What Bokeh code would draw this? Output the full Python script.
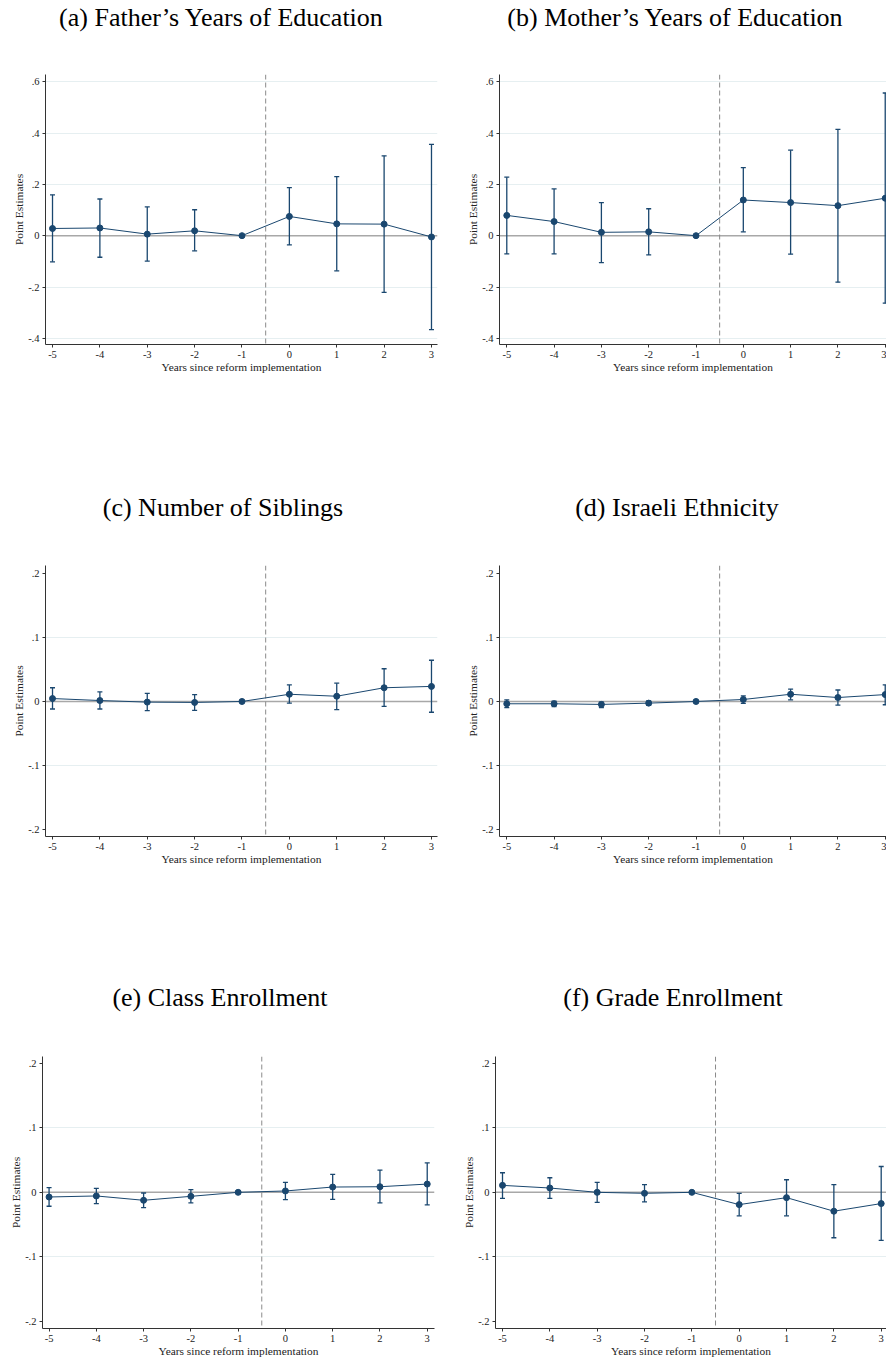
from bokeh.plotting import figure
from bokeh.models import Range1d, FixedTicker, Span, Title
from bokeh.layouts import column, row
from bokeh.embed import file_html
from bokeh.resources import INLINE

years = [-5, -4, -3, -2, -1, 0, 1, 2, 3]
x_labels = {-5: "-5", -4: "-4", -3: "-3", -2: "-2", -1: "-1", 0: "0", 1: "1", 2: "2", 3: "3"}

titles = ["(a) Father\u2019s Years of Education", "(b) Mother\u2019s Years of Education",
          "(c) Number of Siblings", "(d) Israeli Ethnicity",
          "(e) Class Enrollment", "(f) Grade Enrollment"]

# (a) Father's years of education
fa_est = [0.028, 0.030, 0.006, 0.019, 0.0, 0.075, 0.046, 0.045, -0.005]
fa_hi = [0.159, 0.143, 0.112, 0.101, 0.0, 0.187, 0.230, 0.311, 0.356]
fa_lo = [-0.102, -0.084, -0.099, -0.059, 0.0, -0.036, -0.137, -0.221, -0.366]

# (b) Mother's years of education
mo_est = [0.079, 0.055, 0.013, 0.015, 0.0, 0.139, 0.129, 0.117, 0.146]
mo_hi = [0.228, 0.182, 0.129, 0.105, 0.0, 0.265, 0.333, 0.414, 0.556]
mo_lo = [-0.071, -0.071, -0.105, -0.075, 0.0, 0.015, -0.072, -0.181, -0.263]

# (c) Number of siblings
sib_est = [0.0046, 0.0015, -0.0010, -0.0015, 0.0, 0.0113, 0.0082, 0.0215, 0.0236]
sib_hi = [0.0215, 0.0149, 0.0128, 0.0108, 0.0, 0.0260, 0.0287, 0.0513, 0.0646]
sib_lo = [-0.0118, -0.0118, -0.0144, -0.0138, 0.0, -0.0026, -0.0128, -0.0077, -0.0169]

# (d) Israeli ethnicity
eth_est = [-0.0036, -0.0036, -0.0046, -0.0026, 0.0, 0.0031, 0.0113, 0.0062, 0.0108]
eth_hi = [0.0026, 0.0005, -0.0010, 0.0010, 0.0, 0.0087, 0.0195, 0.0180, 0.0260]
eth_lo = [-0.0097, -0.0082, -0.0097, -0.0062, 0.0, -0.0031, 0.0026, -0.0056, -0.0051]

# (e) Class enrollment
cls_est = [-0.0072, -0.0056, -0.0123, -0.0062, 0.0, 0.0021, 0.0082, 0.0087, 0.0128]
cls_hi = [0.0072, 0.0062, -0.0010, 0.0041, 0.0, 0.0154, 0.0277, 0.0344, 0.0456]
cls_lo = [-0.0215, -0.0174, -0.0236, -0.0164, 0.0, -0.0113, -0.0108, -0.0164, -0.0195]

# (f) Grade enrollment
grd_est = [0.0108, 0.0067, 0.0, -0.0015, 0.0, -0.0190, -0.0082, -0.0292, -0.0174]
grd_hi = [0.0303, 0.0226, 0.0154, 0.0118, 0.0, -0.0015, 0.0195, 0.0118, 0.0400]
grd_lo = [-0.0092, -0.0092, -0.0154, -0.0149, 0.0, -0.0364, -0.0364, -0.0703, -0.0744]

big_ticks = [-0.4, -0.2, 0.0, 0.2, 0.4, 0.6]
big_labels = {-0.4: "-.4", -0.2: "-.2", 0.0: "0", 0.2: ".2", 0.4: ".4", 0.6: ".6"}
big_grid = [-0.4, -0.2, 0.2, 0.4, 0.6]
small_ticks = [-0.2, -0.1, 0.0, 0.1, 0.2]
small_labels = {-0.2: "-.2", -0.1: "-.1", 0.0: "0", 0.1: ".1", 0.2: ".2"}
small_grid = [-0.1, 0.1]

NAVY = "#1a476f"
FONT = "Liberation Serif"
AXIS = "#333333"
TITLE_PX = 26

# Times / Liberation Serif advance widths (1/1000 em), used to centre the titles
_W = {" ": 250, "(": 333, ")": 333, "\u2019": 333, "a": 444, "b": 500, "c": 444, "d": 500,
      "e": 444, "f": 333, "g": 500, "h": 500, "i": 278, "l": 278, "m": 778, "n": 500,
      "o": 500, "r": 333, "s": 389, "t": 278, "u": 500, "y": 500, "C": 667, "E": 611,
      "F": 556, "G": 722, "I": 333, "M": 889, "N": 722, "S": 556, "Y": 722}


def text_width(s, px):
    return sum(_W.get(ch, 500) for ch in s) * px / 1000.0


def panel(title, est, lo, hi, width, height, left, right, top, bottom,
          xr, yr, yticks, ylabels, ygrid, title_cx, title_gap):
    p = figure(width=width, height=height, output_backend="svg", toolbar_location=None,
               x_range=Range1d(*xr), y_range=Range1d(*yr),
               min_border_left=left, min_border_right=right,
               min_border_top=top, min_border_bottom=bottom)
    p.outline_line_color = None
    p.background_fill_color = "white"
    p.border_fill_color = "white"
    p.xgrid.visible = False
    p.ygrid.ticker = FixedTicker(ticks=ygrid)
    p.ygrid.grid_line_color = "#e6eff1"
    p.ygrid.grid_line_width = 1

    p.xaxis.ticker = FixedTicker(ticks=years)
    p.xaxis.major_label_overrides = x_labels
    p.yaxis.ticker = FixedTicker(ticks=yticks)
    p.yaxis.major_label_overrides = ylabels
    p.xaxis.axis_label = "Years since reform implementation"
    p.yaxis.axis_label = "Point Estimates"
    for ax in (p.xaxis[0], p.yaxis[0]):
        ax.axis_line_color = AXIS
        ax.axis_line_width = 1
        ax.major_tick_line_color = AXIS
        ax.major_tick_out = 3
        ax.major_tick_in = 0
        ax.minor_tick_out = 0
        ax.minor_tick_in = 0
        ax.major_label_text_font = FONT
        ax.major_label_text_font_size = "10.5px"
        ax.major_label_text_color = "#222222"
        ax.major_label_standoff = 3
        ax.axis_label_text_font = FONT
        ax.axis_label_text_font_size = "11.4px"
        ax.axis_label_text_font_style = "normal"
        ax.axis_label_text_color = "#222222"
        ax.axis_label_standoff = 0

    p.add_layout(Span(location=0, dimension="width", line_color="#a8a8a8",
                      line_width=1.5, level="underlay"))
    p.add_layout(Span(location=-0.5, dimension="height", line_color="#8a8a8a",
                      line_width=1, line_dash="5 3", level="underlay"))

    p.segment(x0=years, y0=lo, x1=years, y1=hi, line_color=NAVY, line_width=1.3)
    p.scatter(years, hi, marker="dash", size=5, line_color=NAVY, line_width=1.3)
    p.scatter(years, lo, marker="dash", size=5, line_color=NAVY, line_width=1.3)
    p.line(years, est, line_color=NAVY, line_width=1)
    p.scatter(years, est, size=6, fill_color=NAVY, line_color=NAVY)

    # blank spacer panel between the frame and the title
    p.add_layout(Title(text=" ", text_font_size="1px", text_color="white",
                       standoff=title_gap), "above")

    # built-in plot title: placed outermost, beyond the spacer
    p.title.text = title
    p.title.align = "left"
    p.title.offset = title_cx - text_width(title, TITLE_PX) / 2.0
    p.title.text_font = FONT
    p.title.text_font_size = f"{TITLE_PX}px"
    p.title.text_font_style = "normal"
    p.title.text_color = "black"
    p.title.standoff = 0
    return p


pa = panel(titles[0], fa_est, fa_lo, fa_hi, 443, 490, 45, 6, 71, 146,
           (-5.148, 3.127), (-0.424, 0.628), big_ticks, big_labels, big_grid, 177.5, 40)
pb = panel(titles[1], mo_est, mo_lo, mo_hi, 443, 490, 56, 0, 71, 146,
           (-5.154, 3.027), (-0.424, 0.628), big_ticks, big_labels, big_grid, 177.5, 40)
pc = panel(titles[2], sib_est, sib_lo, sib_hi, 443, 490, 45, 6, 73, 144,
           (-5.148, 3.127), (-0.2115, 0.213), small_ticks, small_labels, small_grid, 177.5, 41)
pd = panel(titles[3], eth_est, eth_lo, eth_hi, 443, 490, 56, 0, 73, 144,
           (-5.154, 3.027), (-0.2115, 0.213), small_ticks, small_labels, small_grid, 177.5, 41)
pe = panel(titles[4], cls_est, cls_lo, cls_hi, 443, 379, 42, 9, 75, 31,
           (-5.139, 3.154), (-0.2108, 0.2103), small_ticks, small_labels, small_grid, 177.5, 42)
pf = panel(titles[5], grd_est, grd_lo, grd_hi, 443, 379, 52, 0, 75, 31,
           (-5.148, 3.112), (-0.2108, 0.2103), small_ticks, small_labels, small_grid, 177.5, 42)

layout = column(row(pa, pb, spacing=0), row(pc, pd, spacing=0), row(pe, pf, spacing=0), spacing=0)

open("out.html", "w").write(file_html(layout, INLINE))
